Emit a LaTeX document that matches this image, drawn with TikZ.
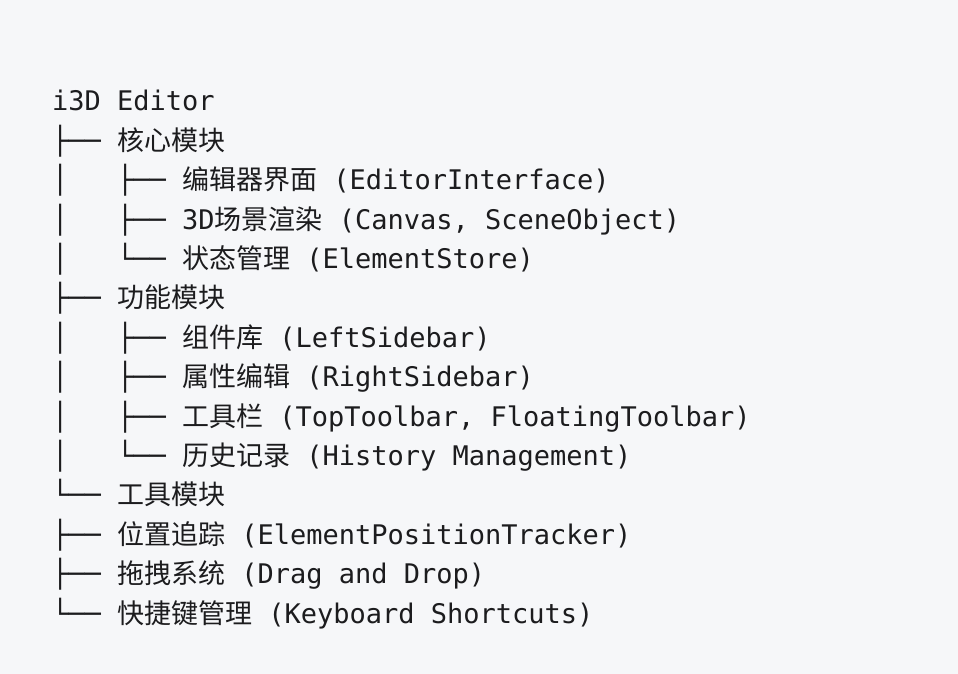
\documentclass[tikz,border=0pt]{standalone}
\usepackage{fontspec}
\newfontfamily\monof{DejaVu Sans Mono}
\newfontfamily\cjkf{Noto Sans CJK SC}
\newcommand\zh[1]{{\cjkf #1}}
\definecolor{bgc}{HTML}{F6F7F9}
\definecolor{txt}{HTML}{1C1C1E}
\tikzset{
  treeline/.style={anchor=base west, inner sep=0pt, outer sep=0pt, text=txt,
    font=\monof\fontsize{27}{32}\selectfont}
}
\begin{document}
\begin{tikzpicture}[x=1pt,y=1pt]
\useasboundingbox[fill=bgc] (0,0) rectangle (958,674);
\def\rowy#1{\fpeval{674-111-39.4*#1}}
\node[treeline] (l0)  at (52,{674-111-39.4*0})  {i3D Editor};
\node[treeline] (l1)  at (52,{674-111-39.4*1})  {├──\ \zh{核心模块}};
\node[treeline] (l2)  at (52,{674-111-39.4*2})  {│\ \ \ ├──\ \zh{编辑器界面}\ (EditorInterface)};
\node[treeline] (l3)  at (52,{674-111-39.4*3})  {│\ \ \ ├──\ 3D\zh{场景渲染}\ (Canvas,\ SceneObject)};
\node[treeline] (l4)  at (52,{674-111-39.4*4})  {│\ \ \ └──\ \zh{状态管理}\ (ElementStore)};
\node[treeline] (l5)  at (52,{674-111-39.4*5})  {├──\ \zh{功能模块}};
\node[treeline] (l6)  at (52,{674-111-39.4*6})  {│\ \ \ ├──\ \zh{组件库}\ (LeftSidebar)};
\node[treeline] (l7)  at (52,{674-111-39.4*7})  {│\ \ \ ├──\ \zh{属性编辑}\ (RightSidebar)};
\node[treeline] (l8)  at (52,{674-111-39.4*8})  {│\ \ \ ├──\ \zh{工具栏}\ (TopToolbar,\ FloatingToolbar)};
\node[treeline] (l9)  at (52,{674-111-39.4*9})  {│\ \ \ └──\ \zh{历史记录}\ (History\ Management)};
\node[treeline] (l10) at (52,{674-111-39.4*10}) {└──\ \zh{工具模块}};
\node[treeline] (l11) at (52,{674-111-39.4*11}) {├──\ \zh{位置追踪}\ (ElementPositionTracker)};
\node[treeline] (l12) at (52,{674-111-39.4*12}) {├──\ \zh{拖拽系统}\ (Drag\ and\ Drop)};
\node[treeline] (l13) at (52,{674-111-39.4*13}) {└──\ \zh{快捷键管理}\ (Keyboard\ Shortcuts)};
\end{tikzpicture}
\end{document}
